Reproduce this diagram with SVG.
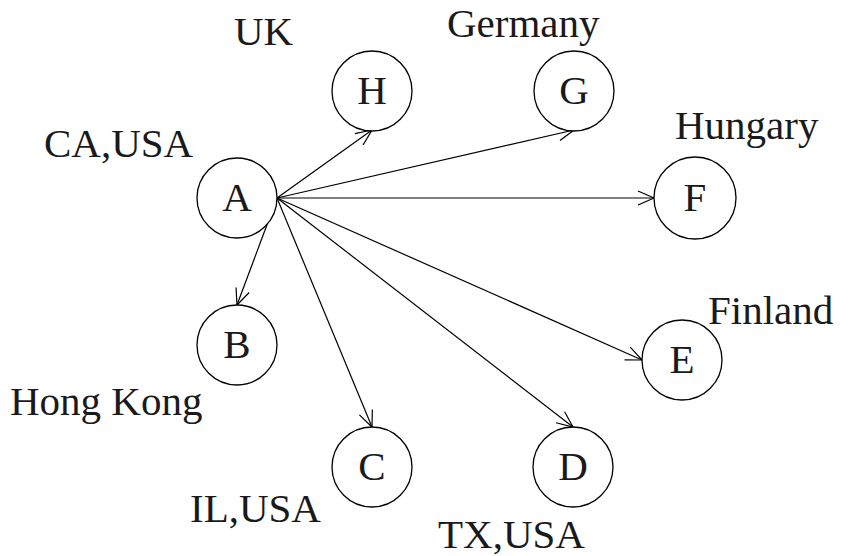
<svg xmlns="http://www.w3.org/2000/svg" width="851" height="556" viewBox="0 0 851 556">
  <style>
    .node circle { fill: #ffffff; stroke: #000000; stroke-width: 1.3; }
    .node text { font-family: "Liberation Serif", "Times New Roman", serif; font-size: 41px; fill: #1a1a1a; text-anchor: middle; }
    .label { font-family: "Liberation Serif", "Times New Roman", serif; font-size: 41px; fill: #1a1a1a; }
    .edges line { stroke: #000000; stroke-width: 1.2; fill: none; marker-end: url(#arrow); }
  </style>
  <defs>
    <marker id="arrow" markerUnits="userSpaceOnUse" markerWidth="18" markerHeight="16" refX="16" refY="7" orient="auto" overflow="visible">
      <path d="M0,0 L16,7 L0,14" fill="none" stroke="#000000" stroke-width="1.2"/>
    </marker>
  </defs>

  <rect width="851" height="556" fill="#ffffff"/>

  <!-- connectors: all edges leave A from its right side -->
  <g id="edges" class="edges">
    <line x1="277" y1="198" x2="372" y2="130"/>
    <line x1="277" y1="198" x2="574" y2="130"/>
    <line x1="277" y1="198" x2="654" y2="198"/>
    <line x1="277" y1="198" x2="642" y2="360"/>
    <line x1="277" y1="198" x2="573" y2="427"/>
    <line x1="277" y1="198" x2="372" y2="427"/>
    <line x1="277" y1="198" x2="237" y2="305"/>
  </g>

  <g id="node-A" class="node">
    <circle cx="237" cy="198" r="40"/>
    <text x="237" y="211">A</text>
  </g>
  <g id="node-H" class="node">
    <circle cx="372" cy="91" r="40"/>
    <text x="372" y="104">H</text>
  </g>
  <g id="node-G" class="node">
    <circle cx="574" cy="91" r="40"/>
    <text x="574" y="104">G</text>
  </g>
  <g id="node-F" class="node">
    <circle cx="695" cy="198" r="41"/>
    <text x="695" y="211">F</text>
  </g>
  <g id="node-E" class="node">
    <circle cx="682" cy="360" r="40"/>
    <text x="682" y="373">E</text>
  </g>
  <g id="node-D" class="node">
    <circle cx="573" cy="467" r="40"/>
    <text x="573" y="480">D</text>
  </g>
  <g id="node-C" class="node">
    <circle cx="372" cy="467" r="40"/>
    <text x="372" y="480">C</text>
  </g>
  <g id="node-B" class="node">
    <circle cx="237" cy="345" r="40"/>
    <text x="237" y="358">B</text>
  </g>

  <!-- location labels -->
  <g id="labels">
    <text class="label" x="234" y="45">UK</text>
    <text class="label" x="447" y="37">Germany</text>
    <text class="label" x="44" y="157">CA,USA</text>
    <text class="label" x="675" y="139">Hungary</text>
    <text class="label" x="708" y="324">Finland</text>
    <text class="label" x="10" y="415">Hong Kong</text>
    <text class="label" x="190" y="522">IL,USA</text>
    <text class="label" x="438" y="548">TX,USA</text>
  </g>
</svg>
